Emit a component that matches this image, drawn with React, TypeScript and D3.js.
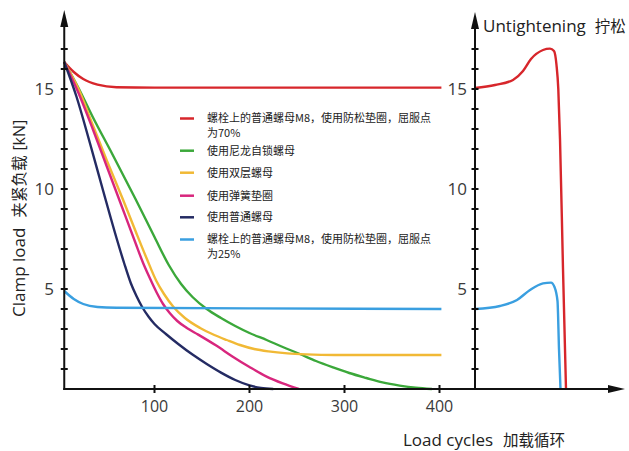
import React from "react";
import * as d3 from "d3";

// ---- data ----
const cycleTicks = [100, 200, 300, 400];
const loadTickLabels = [5, 10, 15];
const loadMinorTicks = d3.range(1, 18);

const legendLabels = [
  ["螺栓上的普通螺母M8，使用防松垫圈，屈服点", "为70%"],
  ["使用尼龙自锁螺母"],
  ["使用双层螺母"],
  ["使用弹簧垫圈"],
  ["使用普通螺母"],
  ["螺栓上的普通螺母M8，使用防松垫圈，屈服点", "为25%"],
];
const seriesColors = ["#d7262b", "#3ba83a", "#f1b935", "#d8267d", "#242b63", "#3a9fe0"];

// left panel: [load cycles, clamp load kN]
const redCycles: [number, number][] = [[5, 16.35], [15, 15.85], [25, 15.5], [40, 15.22], [60, 15.09], [100, 15.07], [250, 15.07], [402, 15.07]];
const greenCycles: [number, number][] = [[5, 16.35], [20, 15.05], [35, 13.6], [55, 11.8], [80, 9.5], [100, 7.6], [115, 6.2], [128, 5.25], [140, 4.6], [155, 4.0], [170, 3.55], [185, 3.15], [200, 2.8], [218, 2.45], [235, 2.1], [253, 1.75], [270, 1.4], [288, 1.08], [305, 0.8], [323, 0.55], [340, 0.33], [358, 0.17], [375, 0.06], [392, 0]];
const yellowCycles: [number, number][] = [[5, 16.35], [20, 15.0], [35, 13.2], [50, 11.4], [67, 9.45], [80, 7.9], [92, 6.5], [102, 5.4], [110, 4.75], [120, 4.1], [132, 3.55], [148, 3.05], [163, 2.7], [176, 2.45], [190, 2.2], [205, 2.0], [220, 1.88], [240, 1.78], [260, 1.73], [290, 1.7], [402, 1.7]];
const pinkCycles: [number, number][] = [[5, 16.35], [20, 14.8], [35, 13.0], [50, 11.1], [65, 9.2], [80, 7.3], [88, 6.3], [95, 5.55], [102, 4.85], [109, 4.25], [116, 3.8], [124, 3.4], [134, 3.05], [146, 2.72], [165, 2.17], [182, 1.63], [200, 1.1], [218, 0.62], [235, 0.28], [252, 0]];
const navyCycles: [number, number][] = [[5, 16.35], [18, 14.6], [32, 12.3], [46, 9.9], [60, 7.55], [68, 6.3], [75, 5.3], [81, 4.65], [87, 4.1], [94, 3.6], [100, 3.25], [112, 2.75], [125, 2.25], [140, 1.72], [155, 1.25], [170, 0.82], [185, 0.45], [200, 0.18], [212, 0.05], [225, 0]];
const blueCycles: [number, number][] = [[5, 4.9], [15, 4.5], [25, 4.25], [40, 4.1], [60, 4.06], [200, 4.03], [402, 4.0]];

// right panel: [untightening progress, clamp load kN]
const redUntight: [number, number][] = [[0, 15.05], [20, 15.2], [38, 15.45], [48, 15.9], [56, 16.5], [68, 16.95], [75, 17.02], [79, 16.9], [81.5, 16.2], [83.3, 15.0], [85, 12.5], [88, 6.0], [91, 0]];
const blueUntight: [number, number][] = [[0, 4.0], [25, 4.15], [42, 4.45], [55, 4.95], [68, 5.28], [76, 5.32], [79.5, 5.1], [82.5, 4.4], [84, 2.0], [85.5, 0]];

const leftSeries = [redCycles, greenCycles, yellowCycles, pinkCycles, navyCycles, blueCycles];

export default function App() {
  const W = 629, H = 451;
  const xL = d3.scaleLinear().domain([0, 400]).range([59.5, 439.5]);
  const xR = d3.scaleLinear().domain([0, 100]).range([475, 575]);
  const y = d3.scaleLinear().domain([0, 17]).range([389, 49]);

  const lineL = d3.line<[number, number]>().x(d => xL(d[0])).y(d => y(d[1])).curve(d3.curveMonotoneX);
  const lineR = d3.line<[number, number]>().x(d => xR(d[0])).y(d => y(d[1])).curve(d3.curveMonotoneX);

  const axisColor = "#111";
  const font = "'Open Sans', 'Noto Sans CJK SC', sans-serif";
  const cjk = "'Noto Sans CJK SC', 'Open Sans', sans-serif";
  const y0 = y(0);
  const axL = xL(5);
  const axR = xR(0);

  const legendRows = [118.5, 150.7, 172.7, 195.7, 217.3, 239.5];

  return (
    <svg width={W} height={H} style={{ position: "absolute", left: 0, top: 0, background: "#fff" }}>
      <rect width={W} height={H} fill="#fff" />
      {leftSeries.map((s, i) => (
        <path key={i} d={lineL(s) || ""} fill="none" stroke={seriesColors[i]} strokeWidth={2.4} />
      ))}
      <path d={lineR(blueUntight) || ""} fill="none" stroke={seriesColors[5]} strokeWidth={2.4} />
      <path d={lineR(redUntight) || ""} fill="none" stroke={seriesColors[0]} strokeWidth={2.4} />

      {/* axes */}
      <line x1={axL} x2={axL} y1={y0 + 1} y2={22} stroke={axisColor} strokeWidth={2} />
      <path d={`M${axL},10 L${axL - 4},27 L${axL + 4},27 Z`} fill={axisColor} />
      <line x1={axR} x2={axR} y1={y0 + 1} y2={24} stroke={axisColor} strokeWidth={2} />
      <path d={`M${axR},12 L${axR - 4},29 L${axR + 4},29 Z`} fill={axisColor} />
      <line x1={axL - 1} x2={612} y1={y0} y2={y0} stroke={axisColor} strokeWidth={2} />
      <path d={`M625,${y0} L608,${y0 - 4} L608,${y0 + 4} Z`} fill={axisColor} />

      {loadMinorTicks.map(v => (
        <g key={v}>
          <line x1={axL - 3.5} x2={axL + 3.5} y1={y(v)} y2={y(v)} stroke={axisColor} strokeWidth={2} />
          <line x1={axR - 3.5} x2={axR + 3.5} y1={y(v)} y2={y(v)} stroke={axisColor} strokeWidth={2} />
        </g>
      ))}
      {loadTickLabels.map(v => (
        <g key={v} fontFamily={font} fontSize={17} fill="#3a3a3a">
          <text x={54} y={y(v)} dy="0.35em" textAnchor="end">{v}</text>
          <text x={467} y={y(v)} dy="0.35em" textAnchor="end">{v}</text>
        </g>
      ))}
      {cycleTicks.map(v => (
        <g key={v}>
          <line x1={xL(v)} x2={xL(v)} y1={y0 - 4} y2={y0 + 4} stroke={axisColor} strokeWidth={2} />
          <text x={xL(v)} y={412} textAnchor="middle" fontFamily={font} fontSize={16} fill="#3a3a3a">{v}</text>
        </g>
      ))}

      {/* axis titles */}
      <text transform="translate(25,317) rotate(-90)" textAnchor="start" fontFamily={font} fontSize={17} fill="#222">
        <tspan>Clamp load</tspan>
        <tspan dx={10} fontFamily={cjk} fontSize={15.5}>夹紧负载</tspan>
        <tspan dx={5} fontSize={16}>[kN]</tspan>
      </text>
      <text x={403} y={446} fontFamily={font} fontSize={17} fill="#222">
        <tspan>Load cycles</tspan>
        <tspan dx={10} fontFamily={cjk} fontSize={15.5}>加载循环</tspan>
      </text>
      <text x={483} y={32} fontFamily={font} fontSize={17} fill="#222">
        <tspan>Untightening</tspan>
        <tspan dx={9} fontFamily={cjk} fontSize={15.5}>拧松</tspan>
      </text>

      {/* legend */}
      {legendLabels.map((lab, i) => (
        <g key={i}>
          <line x1={180} x2={194} y1={legendRows[i]} y2={legendRows[i]} stroke={seriesColors[i]} strokeWidth={2.5} />
          <text x={207} y={legendRows[i]} fontFamily={cjk} fontSize={11} fill="#222">
            {lab.map((t, j) => (
              <tspan key={j} x={207} dy={j === 0 ? "0.36em" : 15}>{t}</tspan>
            ))}
          </text>
        </g>
      ))}
    </svg>
  );
}
